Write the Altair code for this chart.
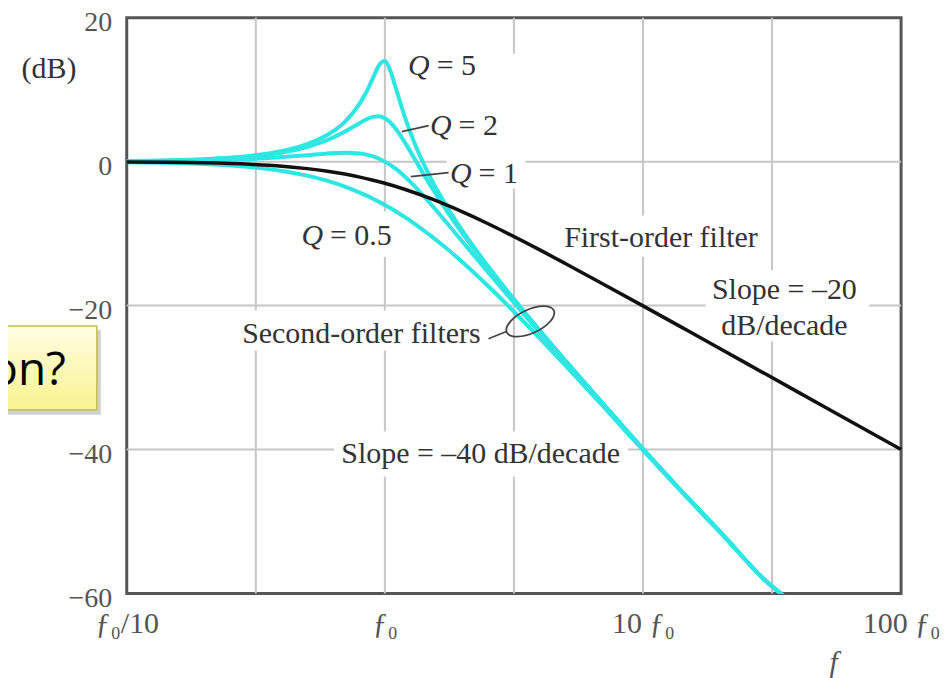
import altair as alt
import pandas as pd

SERIF = "Liberation Serif"

# ---------------- data ----------------
FREQ = [0.1, 0.15, 0.2, 0.3, 0.4, 0.5, 0.6, 0.7, 0.8, 0.85, 0.9, 0.95, 1.0, 1.05, 1.1,
        1.2, 1.3, 1.5, 1.75, 2, 2.5, 3, 4, 5, 7, 10, 15, 20, 30, 35]
Q5_DB = [0.09, 0.19, 0.35, 0.80, 1.48, 2.42, 3.73, 5.53, 8.09, 9.75, 11.64, 13.41, 13.98, 12.63, 10.34,
         6.0, 2.65, -2.18, -6.41, -9.62, -14.44, -18.09, -23.53, -27.61, -33.63, -39.9, -46.8, -51.5, -58.3, -60.3]
Q2_DB = [0.08, 0.17, 0.31, 0.70, 1.28, 2.04, 3.01, 4.17, 5.38, 5.89, 6.22, 6.29, 6.02, 5.43, 4.60,
         2.57, 0.46, -3.27, -7.01, -10.0, -14.64, -18.21, -23.6, -27.65, -33.65, -39.9, -46.8, -51.5, -58.3, -60.3]
Q1_DB = [0.04, 0.10, 0.17, 0.37, 0.63, 0.90, 1.14, 1.25, 1.14, 0.97, 0.73, 0.40, 0.0, -0.46, -0.98,
         -2.13, -3.36, -5.81, -8.64, -11.14, -15.29, -18.63, -23.82, -27.79, -33.72, -40.0, -46.8, -51.5, -58.3, -60.3]
Q05_DB = [-0.09, -0.19, -0.34, -0.75, -1.29, -1.94, -2.67, -3.46, -4.30, -4.72, -5.15, -5.59, -6.02, -6.45, -6.89,
          -7.75, -8.60, -10.24, -12.18, -13.98, -17.21, -20.0, -24.61, -28.30, -33.98, -40.1, -46.9, -51.6, -58.3, -60.3]
SERIES = ["Q = 5", "Q = 2", "Q = 1", "Q = 0.5"]

FIRST_FREQ = [0.1, 0.15, 0.2, 0.3, 0.4, 0.5, 0.6, 0.7, 0.8, 0.9, 1.0, 1.2, 1.5, 2, 2.5, 3, 4, 5, 7,
              10, 15, 20, 30, 50, 70, 100]
FIRST_DB = [-0.04, -0.10, -0.17, -0.37, -0.64, -0.97, -1.34, -1.73, -2.15, -2.58, -3.01, -3.87, -5.12,
            -6.99, -8.60, -10.0, -12.30, -14.15, -16.99, -20.04, -23.54, -26.03, -29.55, -33.98, -36.90, -40.0]

X_TICKS = [0.1, 0.3162, 1, 3.162, 10, 31.62, 100]
X_LABELS = ["ƒ₀/10", "", "ƒ₀", "", "10 ƒ₀", "", "100 ƒ₀"]
X_GRID = [0.3162, 1, 3.162, 10, 31.62]
Y_TICKS = [20, 0, -20, -40, -60]
Y_GRID = [0, -20, -40]

# Q labels: italic "Q" + rest
Q_REST = ["= 5", "= 2", "= 1", "= 0.5"]
Q_U = [1.492, 1.814, 2.167, 0.576]
Q_DB = [13.3, 5.0, -1.67, -10.4]

NOTE_TEXT = ["First-order filter", "Slope = –20", "dB/decade", "Second-order filters",
             "Slope = –40 dB/decade", "(dB)"]
NOTE_U = [11.74, 35.3, 35.3, 0.811, 2.349, 0.05]
NOTE_DB = [-10.56, -17.9, -22.8, -23.9, -40.6, 12.9]

# white label backgrounds (data coords)
BOX_U1 = [1.184, 1.453, 1.735, 2.958, 0.457, 4.697, 17.51, 0.2635, 0.6356]
BOX_U2 = [2.307, 2.829, 3.503, 3.41, 1.153, 29.85, 75.2, 2.52, 8.754]
BOX_DB1 = [15.4, 7.1, 0.4, 15.0, -6.94, -7.5, -15.1, -20.7, -37.5]
BOX_DB2 = [11.0, 2.8, -3.75, -3.33, -13.2, -13.2, -25.0, -26.25, -43.75]

# leader lines
LEAD_ID = [0, 0, 1, 1, 2, 2]
LEAD_U = [1.163, 1.479, 1.26, 1.766, 2.52, 2.958]
LEAD_DB = [4.17, 5.0, -2.08, -1.53, -24.6, -23.6]

ELL_U = [3.66]
ELL_DB = [-22.2]

CALLOUT_TEXT = ["on?"]

# ---------------- tables ----------------
curves = pd.DataFrame({
    "f": FREQ * 4,
    "db": Q5_DB + Q2_DB + Q1_DB + Q05_DB,
    "series": [s for s in SERIES for _ in FREQ],
})
first = pd.DataFrame({"f": FIRST_FREQ, "db": FIRST_DB})
qlab = pd.DataFrame({"f": Q_U, "db": Q_DB, "rest": Q_REST, "q": ["Q"] * len(Q_U)})
notes = pd.DataFrame({"f": NOTE_U, "db": NOTE_DB, "text": NOTE_TEXT})
boxes = pd.DataFrame({"f": BOX_U1, "u2": BOX_U2, "db": BOX_DB1, "d2": BOX_DB2})
leads = pd.DataFrame({"id": LEAD_ID, "f": LEAD_U, "db": LEAD_DB})
ell = pd.DataFrame({"f": ELL_U, "db": ELL_DB})
xgrid = pd.DataFrame({"f": X_GRID})
ygrid = pd.DataFrame({"db": Y_GRID})
callout = pd.DataFrame({"t": CALLOUT_TEXT})

xs = alt.Scale(type="log", domain=[0.1, 100])
ys = alt.Scale(domain=[-60, 20])

label_expr = ""
for v, l in zip(X_TICKS, X_LABELS):
    label_expr += f"datum.value == {v} ? '{l}' : "
label_expr += "''"

x_axis = alt.Axis(values=X_TICKS, labelExpr=label_expr, grid=False, ticks=False, domain=False,
                  labelFont=SERIF, labelFontSize=30, labelColor="#555", labelPadding=15,
                  labelFlush=False, labelOverlap=False,
                  titleFont=SERIF, titleFontStyle="italic", titleFontWeight="normal",
                  titleFontSize=30, titleColor="#555", titleX=708, titleY=78,
                  titleBaseline="alphabetic", titleAlign="center")
y_axis = alt.Axis(values=Y_TICKS, format="d", grid=False, ticks=False, domain=False,
                  labelFont=SERIF, labelFontSize=28, labelColor="#555", labelPadding=15,
                  labelOffset=5, labelFlush=False, labelOverlap=False)

X = alt.X("f:Q", scale=xs, axis=x_axis, title="f")
Y = alt.Y("db:Q", scale=ys, axis=y_axis, title=None)

GRID = "#c6c6c6"
CYAN = "#2ee6e2"
INK = "#333333"

vgrid = alt.Chart(xgrid).mark_rule(color=GRID, strokeWidth=2).encode(x=X)
hgrid = alt.Chart(ygrid).mark_rule(color=GRID, strokeWidth=2).encode(y=Y)

bg = alt.Chart(boxes).mark_rect(color="white").encode(x=X, x2="u2:Q", y=Y, y2="d2:Q")

cyan = alt.Chart(curves).mark_line(color=CYAN, strokeWidth=4, interpolate="monotone", clip=True).encode(
    x=X, y=Y, detail="series:N")

black = alt.Chart(first).mark_line(color="#111111", strokeWidth=3.5, interpolate="monotone").encode(
    x=X, y=Y)

lead = alt.Chart(leads).mark_line(color="#444", strokeWidth=1.6, interpolate="monotone").encode(
    x=X, y=Y, detail="id:N")

ELL_PATH = "M-0.906,0.423A1,0.46,-25,0,1,0.906,-0.423A1,0.46,-25,0,1,-0.906,0.423Z"
ellipse = alt.Chart(ell).mark_point(shape=ELL_PATH, size=2704, filled=False, color="#444",
                                    strokeWidth=1.8, opacity=1).encode(x=X, y=Y)

qtxt = alt.Chart(qlab).mark_text(font=SERIF, fontSize=30, fontStyle="italic", color=INK,
                                 align="right", baseline="middle").encode(x=X, y=Y, text="q:N")
qrest = alt.Chart(qlab).mark_text(font=SERIF, fontSize=30, color=INK, align="left",
                                  baseline="middle", dx=7).encode(x=X, y=Y, text="rest:N")
ntxt = alt.Chart(notes).mark_text(font=SERIF, fontSize=30, color=INK, align="center",
                                  baseline="middle").encode(x=X, y=Y, text="text:N")

# slide call-out box overlapping the figure
shadow = alt.Chart(callout).mark_rect(color="#c4c4c4", opacity=0.8).encode(
    x=alt.value(-125), x2=alt.value(-26), y=alt.value(313), y2=alt.value(398))
box = alt.Chart(callout).mark_rect(
    color=alt.LinearGradient(gradient="linear", x1=0, x2=0, y1=0, y2=1,
                             stops=[alt.GradientStop(color="#fffde4", offset=0),
                                    alt.GradientStop(color="#f9f38c", offset=1)]),
    stroke="#c2c24a", strokeWidth=1.5).encode(
    x=alt.value(-125), x2=alt.value(-30), y=alt.value(309), y2=alt.value(393))
ctext = alt.Chart(callout).mark_text(font="Open Sans", fontSize=46, color="#000", align="right",
                                     baseline="alphabetic").encode(
    x=alt.value(-61), y=alt.value(368), text="t:N")

chart = alt.layer(vgrid, hgrid, bg, cyan, black, lead, ellipse, qtxt, qrest, ntxt,
                  shadow, box, ctext).properties(
    width=776, height=577,
    padding={"left": 119, "top": 9, "right": 42, "bottom": 84},
    autosize=alt.AutoSizeParams(type="none"),
).configure(background="white").configure_view(stroke="#555", strokeWidth=3)

chart.save("out.html", embed_options={"renderer": "svg", "actions": False})
